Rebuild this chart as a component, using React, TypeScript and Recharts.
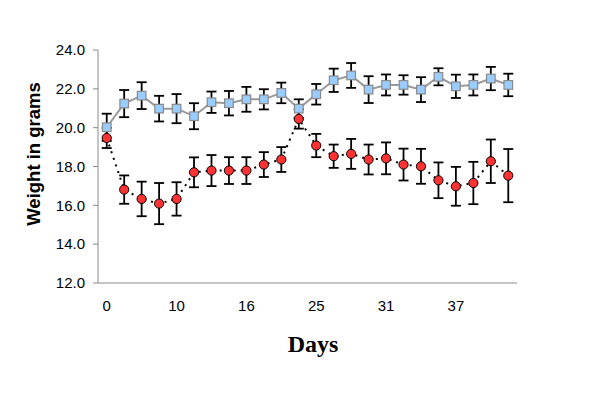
import React from 'react'
import { LineChart, Line, XAxis, YAxis, ErrorBar, Label } from 'recharts'

// x positions are sample indexes; only every 4th one carries a day label
const dayLabels = ['0', '10', '16', '25', '31', '37']
const labelIndex = [0, 4, 8, 12, 16, 20]
const yTicks = [12, 14, 16, 18, 20, 22, 24]

const controlMean = [20.02, 21.24, 21.65, 20.98, 20.98, 20.59, 21.31, 21.26, 21.46, 21.46, 21.79, 20.98, 21.72, 22.44, 22.69, 21.96, 22.2, 22.2, 21.96, 22.62, 22.13, 22.2, 22.53, 22.2]
const controlErr = [0.7, 0.7, 0.69, 0.66, 0.75, 0.67, 0.55, 0.63, 0.64, 0.52, 0.53, 0.48, 0.53, 0.6, 0.64, 0.69, 0.54, 0.5, 0.64, 0.44, 0.6, 0.54, 0.6, 0.58]
const treatedMean = [19.47, 16.81, 16.33, 16.09, 16.33, 17.7, 17.79, 17.79, 17.79, 18.1, 18.36, 20.45, 19.08, 18.53, 18.65, 18.36, 18.42, 18.1, 18.01, 17.29, 16.98, 17.15, 18.27, 17.53]
const treatedErr = [0.52, 0.73, 0.89, 1.06, 0.86, 0.77, 0.8, 0.69, 0.69, 0.64, 0.64, 0.5, 0.6, 0.6, 0.77, 0.77, 0.82, 0.82, 0.9, 0.92, 1.0, 1.09, 1.12, 1.37]

const data = controlMean.map((v, i) => ({
  idx: i,
  control: v,
  controlErr: controlErr[i],
  treated: treatedMean[i],
  treatedErr: treatedErr[i],
}))

// tick marks sit between the samples
const boundaryTicks = Array.from({ length: controlMean.length + 1 }, (_, i) => i - 0.5)

const sans = '"Liberation Sans", Arial, sans-serif'

const SquareDot = (props: any) => {
  const { cx, cy, index } = props
  if (cx == null || cy == null) return <g key={index} />
  return <rect key={index} x={cx - 4.3} y={cy - 4.3} width={8.6} height={8.6} fill="#99ccff" stroke="#8a8a8a" strokeWidth={1.2} />
}

const CircleDot = (props: any) => {
  const { cx, cy, index } = props
  if (cx == null || cy == null) return <g key={index} />
  return <circle key={index} cx={cx} cy={cy} r={4.6} fill="#ff3333" stroke="#000" strokeWidth={1} />
}

export default function App() {
  return (
    <div style={{ position: 'absolute', left: 0, top: 0, width: 600, height: 413, background: '#fff' }}>
      <LineChart width={600} height={413} data={data} margin={{ top: 50, right: 83, bottom: 90, left: 0 }}>
        <XAxis
          dataKey="idx"
          type="number"
          domain={[-0.5, controlMean.length - 0.5]}
          ticks={boundaryTicks}
          tick={false}
          tickSize={5}
          height={10}
          stroke="#8a8a8a"
          allowDataOverflow
        />
        <XAxis
          xAxisId="labels"
          dataKey="idx"
          type="number"
          domain={[-0.5, controlMean.length - 0.5]}
          ticks={labelIndex}
          tickFormatter={(v: number) => dayLabels[labelIndex.indexOf(v)] ?? ''}
          axisLine={false}
          tickLine={false}
          tickSize={0}
          tickMargin={7}
          height={30}
          interval={0}
          tick={{ fill: '#000', fontSize: 15, fontFamily: sans }}
        >
          <Label
            content={() => (
              <text x={313} y={352} textAnchor="middle" fontFamily='"Liberation Serif", "Times New Roman", serif' fontWeight="bold" fontSize={24} fill="#000">
                Days
              </text>
            )}
          />
        </XAxis>
        <YAxis
          type="number"
          domain={[12, 24]}
          ticks={yTicks}
          interval={0}
          width={98}
          tickSize={5}
          tickMargin={8}
          stroke="#8a8a8a"
          tickFormatter={(v: number) => v.toFixed(1)}
          tick={{ fill: '#000', fontSize: 15, fontFamily: sans }}
        >
          <Label
            content={() => (
              <text transform="translate(33,154) rotate(-90)" textAnchor="middle" dominantBaseline="central" fontFamily={sans} fontWeight="bold" fontSize={18.5} fill="#000">
                Weight in grams
              </text>
            )}
          />
        </YAxis>
        <Line
          dataKey="control"
          stroke="#999"
          strokeWidth={2}
          dot={SquareDot}
          activeDot={false}
          isAnimationActive={false}
        >
          <ErrorBar dataKey="controlErr" direction="y" width={5} stroke="#000" strokeWidth={1.8} />
        </Line>
        <Line
          dataKey="treated"
          stroke="#000"
          strokeWidth={2}
          strokeDasharray="2 5"
          dot={CircleDot}
          activeDot={false}
          isAnimationActive={false}
        >
          <ErrorBar dataKey="treatedErr" direction="y" width={5} stroke="#000" strokeWidth={1.8} />
        </Line>
      </LineChart>
    </div>
  )
}
